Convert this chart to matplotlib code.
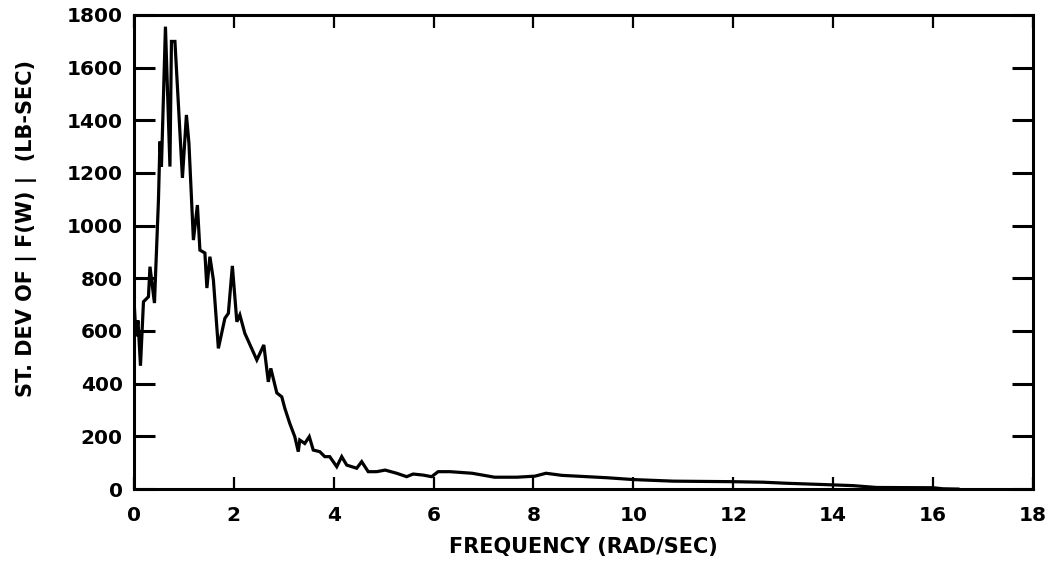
import matplotlib.pyplot as plt
import numpy as np

# valores (frequencia em rad/s, desvio padrao em lb-s)
freq = [0.0, 0.04, 0.08, 0.13, 0.19, 0.29, 0.32, 0.41, 0.49, 0.52, 0.55, 0.63,
        0.72, 0.75, 0.82, 0.97, 1.05, 1.10, 1.19, 1.27, 1.32, 1.42, 1.46, 1.52,
        1.59, 1.69, 1.82, 1.89, 1.97, 2.06, 2.12, 2.22, 2.46, 2.60, 2.69, 2.74,
        2.86, 2.96, 3.02, 3.12, 3.22, 3.29, 3.32, 3.42, 3.51, 3.59, 3.72, 3.82,
        3.92, 4.06, 4.16, 4.26, 4.46, 4.56, 4.69, 4.86, 5.03, 5.26, 5.46, 5.59,
        5.79, 5.96, 6.09, 6.33, 6.77, 7.22, 7.67, 8.03, 8.25, 8.57, 9.47, 10.0,
        10.8, 12.0, 12.6, 13.07, 13.97, 14.4, 14.87, 16.0, 16.2, 16.5]
desvio = [720, 580, 640, 468, 711, 730, 844, 706, 1097, 1319, 1224, 1755,
          1224, 1699, 1699, 1181, 1420, 1314, 945, 1078, 907, 896, 763, 882,
          794, 534, 648, 667, 847, 635, 661, 591, 490, 547, 407, 458,
          365, 350, 307, 249, 199, 142, 186, 173, 199, 148, 142, 123,
          123, 85, 123, 91, 79, 104, 66, 66, 72, 60, 47, 57,
          53, 47, 66, 66, 60, 45, 45, 49, 60, 52, 43, 36,
          30, 28, 26, 22, 16, 13, 6, 5, 1, 0]

xticks = np.arange(0, 19, 2)
yticks = np.arange(0, 1801, 200)

fonte = dict(family='DejaVu Sans', weight='bold')

fig = plt.figure(figsize=(10.55, 5.7), dpi=100)
ax = fig.add_axes([0.127, 0.142, 0.852, 0.832])

ax.plot(freq, desvio, color='black', linewidth=2.3, solid_joinstyle='miter')

ax.set_xlim(0, 18)
ax.set_ylim(0, 1800)
ax.set_xticks(xticks)
ax.set_yticks(yticks)
ax.set_xticklabels([str(v) for v in xticks], fontsize=14.5, **fonte)
ax.set_yticklabels([str(v) for v in yticks], fontsize=14.5, **fonte)

ax.tick_params(axis='y', direction='in', length=15, width=2.2, left=True, right=True, pad=8)
ax.tick_params(axis='x', direction='in', length=9, width=1.6, bottom=True, top=True, pad=12)

for lado in ax.spines.values():
    lado.set_linewidth(2.2)

ax.set_xlabel('FREQUENCY (RAD/SEC)', fontsize=15, labelpad=9, **fonte)
ax.set_ylabel('ST. DEV OF | F(W) |  (LB-SEC)', fontsize=15, **fonte)
ax.yaxis.set_label_coords(-0.108, 0.55)

fig.savefig('out.png', dpi=100)
